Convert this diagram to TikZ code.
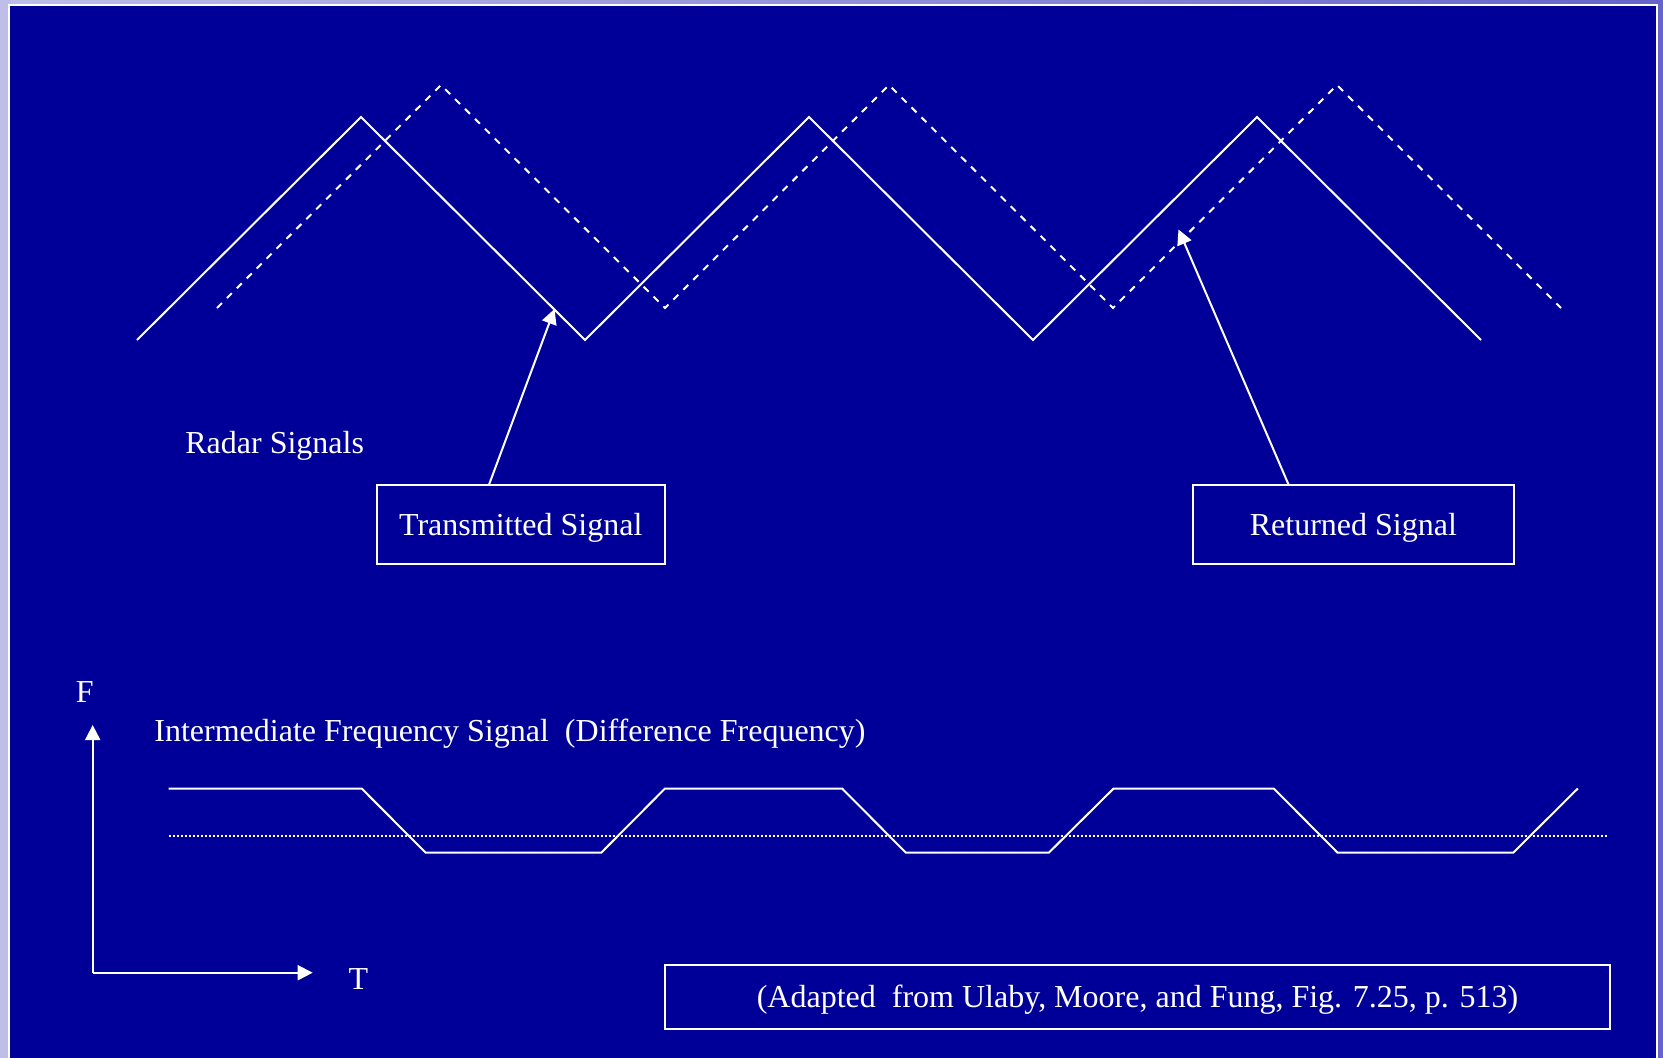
\documentclass[tikz,border=0pt]{standalone}
\usepackage{fontspec}
\setmainfont{Liberation Serif}
\usetikzlibrary{arrows.meta}
\definecolor{slidebg}{RGB}{0,0,153}
\definecolor{outerL}{RGB}{190,190,232}
\definecolor{outerR}{RGB}{100,100,204}
\tikzset{
  wave/.style={white, line width=1pt, line join=miter},
  retwave/.style={white, line width=1pt, dash pattern=on 3.5pt off 3.5pt},
  dotline/.style={white, line width=0.7pt, dash pattern=on 1pt off 1pt},
  labelbox/.style={draw=white, line width=1pt, text=white, inner sep=0pt,
     text depth=0pt, font=\fontsize{16}{19}\selectfont},
  lbl/.style={text=white, inner sep=0pt, font=\fontsize{16}{19}\selectfont},
  pointer/.style={white, line width=1pt, -{Triangle[length=7.5pt,width=7.5pt]}},
}
\begin{document}
\begin{tikzpicture}[x=0.5pt,y=-0.5pt]
\clip (0,0) rectangle (1663,1057);
\shade[left color=outerL, right color=outerR] (0,0) rectangle (1663,1057);
\draw[white, line width=1pt, fill=slidebg] (9,4.5) rectangle (1656.5,1075);

% transmitted (solid) signal
\draw[wave] (137,340) -- (361,117) -- (585,340) -- (809,117) -- (1033,340) -- (1257,117) -- (1481,340);
% returned (dashed) signal
\draw[retwave] (217,308) -- (441,85) -- (665,308) -- (889,85) -- (1113,308) -- (1337,85) -- (1561,308);

\coordinate (ttip) at (554.5,309);
\coordinate (rtip) at (1178.5,229.5);

\node[lbl] (radar) at (274.7,446) {Radar Signals};
\node[labelbox, minimum width=288.5*0.5pt, minimum height=79.5*0.5pt] (trans) at (520.75,524.5) {Transmitted Signal};
\node[labelbox, minimum width=320.3*0.5pt, minimum height=79.5*0.5pt] (ret) at (1353.35,524.5) {Returned Signal};

\coordinate (tstart) at (489,484.7);
\coordinate (rstart) at (1288.6,484.7);
\draw[pointer] (tstart) -- (ttip);
\draw[pointer] (rstart) -- (rtip);

% axes
\coordinate (origin) at (92.7,972.7);
\coordinate (yend) at (92.7,725);
\coordinate (xend) at (312.7,972.7);
\draw[pointer] (origin) -- (yend);
\draw[pointer] (origin) -- (xend);
\node[lbl] (F) at (84.8,692) {F};
\node[lbl] (T) at (358.3,979) {T};

\node[lbl, anchor=base west] (iflabel) at (154,741.7) {Intermediate Frequency Signal\ \ (Difference Frequency)};

% IF signal
\draw[dotline] (168.6,836) -- (1606.7,836);
\draw[wave] (168.6,788.5) -- (361.7,788.5) -- (425.5,852.5) -- (601.4,852.5) -- (665,788.5) -- (842.1,788.5) -- (905.7,852.5) -- (1049,852.5) -- (1113.6,788.5) -- (1273.8,788.5) -- (1337.4,852.5) -- (1513.4,852.5) -- (1577.8,788.5);

\node[labelbox, minimum width=945*0.5pt, minimum height=64*0.5pt] (src) at (1137.5,996.5) {(Adapted\ \ from Ulaby, Moore, and Fung, Fig. 7.25, p. 513)};
\end{tikzpicture}
\end{document}
